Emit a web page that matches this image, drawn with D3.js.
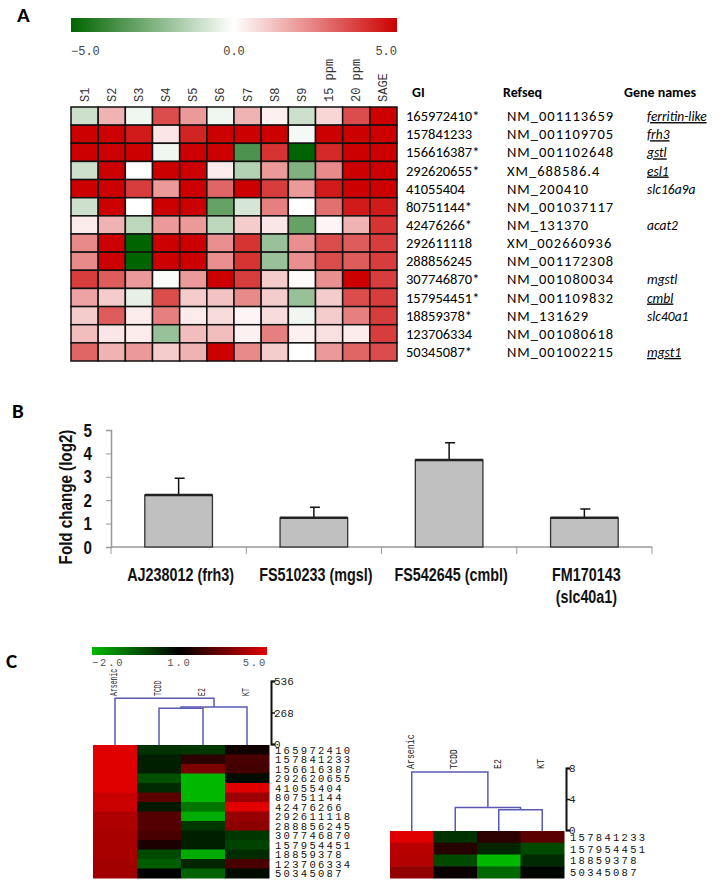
<!DOCTYPE html>
<html>
<head>
<meta charset="utf-8">
<script src="https://cdn.jsdelivr.net/npm/d3@7"></script>
<style>
  body { margin: 0; background: #fff; }
  svg { display: block; }
  .cal { font-family: Carlito, Lato, "Open Sans", sans-serif; }
  .mono { font-family: "Liberation Mono", "DejaVu Sans Mono", monospace; }
  .serif { font-family: "Liberation Serif", "DejaVu Serif", serif; }
  .narrow { font-family: "Liberation Sans", Arial, sans-serif; font-weight: bold; }
</style>
</head>
<body>
<div id="figure"></div>
<script>
var w = 728, h = 883;

/*
 * panel A data
 */
var colsA = ["S1", "S2", "S3", "S4", "S5", "S6", "S7", "S8", "S9", "15 ppm", "20 ppm", "SAGE"];
var giA = ["165972410*", "157841233", "156616387*", "292620655*", "41055404", "80751144*", "42476266*",
           "292611118", "288856245", "307746870*", "157954451*", "18859378*", "123706334", "50345087*"];
var refseqA = ["NM_001113659", "NM_001109705", "NM_001102648", "XM_688586.4", "NM_200410", "NM_001037117", "NM_131370",
               "XM_002660936", "NM_001172308", "NM_001080034", "NM_001109832", "NM_131629", "NM_001080618", "NM_001002215"];
var genesA = ["ferritin-like", "frh3", "gstl", "esl1", "slc16a9a", "", "acat2", "", "", "mgstl", "cmbl", "slc40a1", "", "mgst1"];
var underlinedA = ["ferritin-like", "frh3", "gstl", "esl1", "cmbl", "mgst1"];
var ticksA = [-5, 0, 5];
var valuesA = [
  [-1.0, 1.5, -0.3, 3.5, 2.0, -0.3, 1.5, 0.3, -1.0, 0.8, 3.5, 5.0],
  [5.0, 5.0, 4.5, 0.5, 4.3, 5.0, 5.0, 5.0, -0.2, 5.0, 5.0, 5.0],
  [5.0, 5.0, 5.0, -0.3, 5.0, 5.0, -3.5, 4.0, -5.0, 4.2, 5.0, 5.0],
  [-1.0, 5.0, 0.0, 5.0, 5.0, 0.4, -1.5, 2.0, -2.5, 2.3, 5.0, 5.0],
  [5.0, 5.0, 3.8, 2.0, 5.0, 3.0, 5.0, 3.8, 2.0, 4.5, 5.0, 5.0],
  [-1.0, 5.0, 0.0, 5.0, 5.0, -3.0, -0.8, 2.5, 0.0, 2.8, 4.5, 4.5],
  [0.4, 1.5, -1.3, 2.0, 2.0, -1.3, 1.0, 0.5, -3.0, 0.2, 1.5, 4.0],
  [2.3, 5.0, -5.0, 5.0, 5.0, 2.2, 4.0, -2.0, 2.2, 3.5, 3.2, 3.8],
  [2.3, 5.0, -5.0, 5.0, 5.0, 2.2, 4.0, -2.0, 2.2, 3.5, 3.2, 3.8],
  [3.8, 3.2, 2.0, -0.1, 2.0, 5.0, 3.8, 1.0, 0.1, 2.2, 5.0, 3.8],
  [1.8, 1.0, -0.5, 3.5, 1.0, 1.2, 2.3, 1.0, -2.0, 1.0, 3.5, 3.8],
  [1.0, 3.2, 0.4, 2.5, 0.4, 0.7, 0.2, 0.7, -0.3, 1.0, 2.5, 3.8],
  [1.3, 0.5, 0.4, -2.0, 1.3, 1.3, 0.3, 2.5, 0.3, 0.6, 0.4, 3.8],
  [3.0, 1.5, 2.0, 1.0, 1.5, 5.0, 2.3, 1.0, 0.0, 2.0, 3.0, 3.5]
];

/*
 * panel B data
 */
var qpcrGenes = ["AJ238012 (frh3)", "FS510233 (mgsl)", "FS542645 (cmbl)", "FM170143 (slc40a1)"];
var qpcrLabelLines = [["AJ238012 (frh3)"], ["FS510233 (mgsl)"], ["FS542645 (cmbl)"], ["FM170143", "(slc40a1)"]];
var qpcrFold = [2.22, 1.25, 3.72, 1.25];
var qpcrErr = [0.72, 0.45, 0.73, 0.37];
var ticksB = [0, 1, 2, 3, 4, 5];

/*
 * panel C data
 */
var treatmentsC = ["Arsenic", "TCDD", "E2", "KT"];
var ticksC = [-2, 1, 5];
var giC1 = ["165972410", "157841233", "156616387", "292620655", "41055404", "80751144", "42476266",
            "292611118", "288856245", "307746870", "157954451", "18859378", "123706334", "50345087"];
var valuesC1 = [
  [5.0, 0.2, 0.1, 1.3],
  [5.0, 0.5, 1.8, 2.3],
  [5.0, 0.5, 3.2, 2.2],
  [5.0, -0.3, -2.0, 0.8],
  [5.0, 0.3, -2.0, 5.0],
  [4.6, 2.6, -2.0, 3.8],
  [4.6, 0.6, -0.9, 5.0],
  [4.1, 2.5, -1.8, 3.7],
  [4.1, 2.5, 0.1, 3.5],
  [4.0, 2.3, 0.5, 0.1],
  [4.0, 1.5, 0.5, -0.1],
  [4.0, -0.2, -1.8, 0.3],
  [3.9, -0.5, 0.4, 2.3],
  [3.9, 1.0, -0.6, 0.8]
];
var treeC1 = [
  {id: "n1", kids: ["TCDD", "E2"], h: 305},
  {id: "n2", kids: ["n1", "KT"], h: 315},
  {id: "n3", kids: ["Arsenic", "n2"], h: 390}
];
var scaleTicksC1 = [0, 268, 536];

var giC2 = ["157841233", "157954451", "18859378", "50345087"];
var valuesC2 = [
  [5.0, 0.2, 1.8, 2.6],
  [4.3, 1.7, 0.4, -0.2],
  [4.2, -0.2, -2.0, 0.3],
  [3.6, 1.2, -0.7, 0.9]
];
var treeC2 = [
  {id: "n1", kids: ["E2", "KT"], h: 2.6},
  {id: "n2", kids: ["TCDD", "n1"], h: 2.9},
  {id: "n3", kids: ["Arsenic", "n2"], h: 7.5}
];
var scaleTicksC2 = [0, 4, 8];

var svg;
var colorA = d3.scaleLinear().domain([-5, 0, 5]).range(["#006400", "#ffffff", "#cc0000"]);
var colorC = d3.scaleLinear().domain([-2, 1, 5]).range(["#00b800", "#000000", "#e00000"]);
var treeColor = "#5a5ab4";
var squeeze = 0.82; // stands in for Arial Narrow

function panelLabel(txt, x, y) {
  svg.append("text").attr("class", "cal")
     .attr("x", x).attr("y", y)
     .attr("font-size", 21).attr("font-weight", "bold")
     .text(txt);
}

// bold narrow text: regular bold font squeezed sideways
function narrowText(parent, x, y, rot, size, anchor) {
  return parent.append("text").attr("class", "narrow")
     .attr("transform", "translate(" + x + "," + y + ")" + (rot ? " rotate(" + rot + ")" : "") + " scale(" + squeeze + ",1)")
     .attr("font-size", size).attr("fill", "#111")
     .attr("text-anchor", anchor);
}

function gradient(id, scale, domainAt) {
  var grad = svg.select("defs").append("linearGradient").attr("id", id);
  d3.range(0, 1.0001, 0.05).forEach(function(t) {
    grad.append("stop").attr("offset", t).attr("stop-color", scale(domainAt(t)));
  });
}

function drawPanelA() {
  var bar = {x: 71, y: 18, w: 326, h: 14};
  gradient("gradA", colorA, d3.scaleLinear().domain([0, 1]).range([-5, 5]));
  svg.append("rect").attr("x", bar.x).attr("y", bar.y).attr("width", bar.w).attr("height", bar.h)
     .attr("fill", "url(#gradA)");
  var tickX = d3.scaleLinear().domain([-5, 5]).range([bar.x, bar.x + bar.w]);
  svg.selectAll(".tickA").data(ticksA).enter().append("text")
     .attr("class", "mono")
     .attr("x", function(d) { return tickX(d); })
     .attr("y", 55)
     .attr("text-anchor", function(d, i) { return i == 0 ? "start" : (i == ticksA.length - 1 ? "end" : "middle"); })
     .attr("font-size", 12).attr("fill", "#444")
     .text(function(d) { return d.toFixed(1).replace("-", "\u2212"); });

  var x = d3.scaleBand().domain(colsA).range([71, 397]);
  var y = d3.scaleBand().domain(d3.range(giA.length)).range([107, 361]);

  svg.selectAll(".colA").data(colsA).enter().append("text")
     .attr("class", "mono")
     .attr("transform", function(d) { return "translate(" + (x(d) + x.bandwidth() / 2 + 4) + ",102) rotate(-90)"; })
     .attr("font-size", 12).attr("fill", "#333")
     .text(function(d) { return d; });

  var cells = [];
  valuesA.forEach(function(row, r) {
    row.forEach(function(v, c) { cells.push({r: r, c: colsA[c], v: v}); });
  });
  svg.append("g").selectAll("rect").data(cells).enter().append("rect")
     .attr("x", function(d) { return x(d.c); })
     .attr("y", function(d) { return y(d.r); })
     .attr("width", x.bandwidth()).attr("height", y.bandwidth())
     .attr("fill", function(d) { return colorA(d.v); })
     .attr("stroke", "#111").attr("stroke-width", 1.5);

  var heads = [["GI", 412], ["Refseq", 503], ["Gene names", 624]];
  svg.selectAll(".headA").data(heads).enter().append("text")
     .attr("class", "cal").attr("font-weight", "bold").attr("font-size", 14)
     .attr("x", function(d) { return d[1]; }).attr("y", 97)
     .text(function(d) { return d[0]; });

  var rows = svg.append("g").selectAll("g").data(giA).enter().append("g")
     .attr("transform", function(d, i) { return "translate(0," + (y(i) + y.bandwidth() / 2 + 5) + ")"; });
  rows.append("text").attr("class", "cal").attr("x", 406).attr("font-size", 14.5)
      .text(function(d) { return d; });
  rows.append("text").attr("class", "cal").attr("x", 507).attr("font-size", 14.5)
      .attr("letter-spacing", 1.0)
      .text(function(d, i) { return refseqA[i]; });
  rows.append("text").attr("class", "cal").attr("x", 647).attr("font-size", 13.5)
      .attr("font-style", "italic")
      .attr("text-decoration", function(d, i) { return underlinedA.indexOf(genesA[i]) >= 0 ? "underline" : null; })
      .text(function(d, i) { return genesA[i]; });
}

function drawPanelB() {
  var x = d3.scaleBand().domain(qpcrGenes).range([111, 652]).paddingInner(0.5).paddingOuter(0.25);
  var step = d3.scaleBand().domain(qpcrGenes).range([111, 652]);
  var y = d3.scaleLinear().domain([0, 5]).range([547, 430]);

  var yAxis = svg.append("g").attr("transform", "translate(111,0)")
     .call(d3.axisLeft(y).tickValues(ticksB).tickSize(5).tickFormat(""));
  yAxis.select(".domain").attr("stroke", "#999").attr("stroke-width", 1.5);
  yAxis.selectAll(".tick line").attr("stroke", "#999");
  ticksB.forEach(function(t) {
    narrowText(svg, 92, y(t) + 6.5, 0, 18.5, "end").text(t);
  });

  var xAxis = svg.append("g").attr("transform", "translate(0,547)");
  xAxis.append("line").attr("x1", 111).attr("x2", 652).attr("stroke", "#999").attr("stroke-width", 1.5);
  xAxis.selectAll(".sep").data(qpcrGenes).enter().append("line")
       .attr("x1", function(d) { return step(d) + step.bandwidth(); })
       .attr("x2", function(d) { return step(d) + step.bandwidth(); })
       .attr("y1", 0).attr("y2", 7).attr("stroke", "#999");
  xAxis.append("line").attr("x1", 111).attr("x2", 111).attr("y1", 0).attr("y2", 7).attr("stroke", "#999");

  svg.selectAll(".errB").data(qpcrGenes).enter().append("path")
     .attr("d", function(d, i) {
       var cx = x(d) + x.bandwidth() / 2, top = y(qpcrFold[i] + qpcrErr[i]);
       return "M" + cx + "," + y(qpcrFold[i]) + "V" + top + "M" + (cx - 4) + "," + top + "H" + (cx + 6);
     })
     .attr("stroke", "#111").attr("stroke-width", 1.5).attr("fill", "none");

  svg.selectAll(".barB").data(qpcrGenes).enter().append("rect")
     .attr("x", function(d) { return x(d); })
     .attr("y", function(d, i) { return y(qpcrFold[i]); })
     .attr("width", x.bandwidth())
     .attr("height", function(d, i) { return y(0) - y(qpcrFold[i]); })
     .attr("fill", "#c0c0c0").attr("stroke", "#333").attr("stroke-width", 1.3);
  svg.selectAll(".barTop").data(qpcrGenes).enter().append("line")
     .attr("x1", function(d) { return x(d); })
     .attr("x2", function(d) { return x(d) + x.bandwidth(); })
     .attr("y1", function(d, i) { return y(qpcrFold[i]); })
     .attr("y2", function(d, i) { return y(qpcrFold[i]); })
     .attr("stroke", "#222").attr("stroke-width", 2.5);

  qpcrGenes.forEach(function(g, i) {
    var t = narrowText(svg, step(g) + step.bandwidth() / 2 + 2, 581, 0, 17.5, "middle");
    t.selectAll("tspan").data(qpcrLabelLines[i]).enter().append("tspan")
     .attr("x", 0).attr("dy", function(d, k) { return k == 0 ? 0 : 22; })
     .text(function(d) { return d; });
  });

  narrowText(svg, 72, 497, -90, 18.5, "middle").text("Fold change (log2)");
}

function drawTree(merges, x, yH, leafBottom) {
  var pos = {};
  treatmentsC.forEach(function(t) { pos[t] = {x: x(t) + x.bandwidth() / 2, y: leafBottom}; });
  var g = svg.append("g").attr("stroke", treeColor).attr("stroke-width", 1.5).attr("fill", "none");
  merges.forEach(function(m) {
    var a = pos[m.kids[0]], b = pos[m.kids[1]], yy = yH(m.h);
    g.append("path").attr("d", "M" + a.x + "," + a.y + "V" + yy + "H" + b.x + "V" + b.y);
    pos[m.id] = {x: (a.x + b.x) / 2, y: yy};
  });
}

function drawScale(ticks, yH, x0) {
  var g = svg.append("g").attr("transform", "translate(" + x0 + ",0)");
  g.call(d3.axisRight(yH).tickValues(ticks).tickSize(4).tickFormat(d3.format("d")));
  g.select(".domain").attr("stroke", "#111").attr("stroke-width", 2);
  g.selectAll(".tick line").attr("stroke", "#111").attr("stroke-width", 1.5);
  g.selectAll(".tick text").attr("class", "mono").attr("font-size", 11).attr("fill", "#222").attr("x", 3);
}

function drawHeatC(values, gis, box, yH, merges, ticks, labelBottom, labelSize, labelSqueeze) {
  var x = d3.scaleBand().domain(treatmentsC).range([box.x, box.x + box.w]);
  var y = d3.scaleBand().domain(d3.range(gis.length)).range([box.y, box.y + box.h]);
  var cells = [];
  values.forEach(function(row, r) {
    row.forEach(function(v, c) { cells.push({r: r, c: treatmentsC[c], v: v}); });
  });
  svg.append("g").selectAll("rect").data(cells).enter().append("rect")
     .attr("x", function(d) { return x(d.c); })
     .attr("y", function(d) { return y(d.r); })
     .attr("width", x.bandwidth() + 0.5).attr("height", y.bandwidth() + 0.5)
     .attr("fill", function(d) { return colorC(d.v); });
  svg.append("g").selectAll("text").data(gis).enter().append("text")
     .attr("class", "mono").attr("font-size", 10.5).attr("letter-spacing", 2.3).attr("fill", "#111")
     .attr("x", box.x + box.w + 6)
     .attr("y", function(d, i) { return y(i) + y.bandwidth() / 2 + 4; })
     .text(function(d) { return d; });
  svg.append("g").selectAll("text").data(treatmentsC).enter().append("text")
     .attr("class", "mono").attr("font-size", labelSize).attr("fill", "#222")
     .attr("transform", function(d) {
       return "translate(" + (x(d) + x.bandwidth() / 2 + 2) + "," + labelBottom + ") rotate(-90) scale(" + labelSqueeze + ",1)";
     })
     .text(function(d) { return d; });
  drawTree(merges, x, yH, box.y);
  drawScale(ticks, yH, box.x + box.w + 2);
}

function drawPanelC() {
  var bar = {x: 92, y: 647, w: 175, h: 8};
  gradient("gradC", colorC, d3.scaleLinear().domain([0, 0.5, 1]).range([-2, 1, 5]));
  svg.append("rect").attr("x", bar.x).attr("y", bar.y).attr("width", bar.w).attr("height", bar.h)
     .attr("fill", "url(#gradC)");
  var tickX = d3.scaleLinear().domain([0, 0.5, 1]).range([bar.x, bar.x + bar.w / 2, bar.x + bar.w]);
  var tickPos = d3.scaleLinear().domain([-2, 1, 5]).range([0, 0.5, 1]);
  svg.selectAll(".tickC").data(ticksC).enter().append("text")
     .attr("class", "mono").attr("font-size", 10.5).attr("letter-spacing", 1.8).attr("fill", "#555")
     .attr("x", function(d) { return tickX(tickPos(d)); })
     .attr("y", 666)
     .attr("text-anchor", function(d, i) { return i == 0 ? "start" : (i == ticksC.length - 1 ? "end" : "middle"); })
     .text(function(d) { return d.toFixed(1).replace("-", "\u2212"); });

  var yH1 = d3.scaleLinear().domain([0, 536]).range([744, 681]);
  drawHeatC(valuesC1, giC1, {x: 93, y: 745, w: 176, h: 133}, yH1, treeC1, scaleTicksC1, 696, 10, 0.65);

  var yH2 = d3.scaleLinear().domain([0, 8]).range([830, 768]);
  drawHeatC(valuesC2, giC2, {x: 390, y: 831, w: 174, h: 47}, yH2, treeC2, scaleTicksC2, 769, 11, 0.75);
}

function init() {
  svg = d3.select("#figure").append("svg").attr("width", w).attr("height", h);
  svg.append("defs");
  panelLabel("A", 17, 22);
  panelLabel("B", 12, 418);
  panelLabel("C", 6, 668);
  drawPanelA();
  drawPanelB();
  drawPanelC();
}

init();
</script>
</body>
</html>
